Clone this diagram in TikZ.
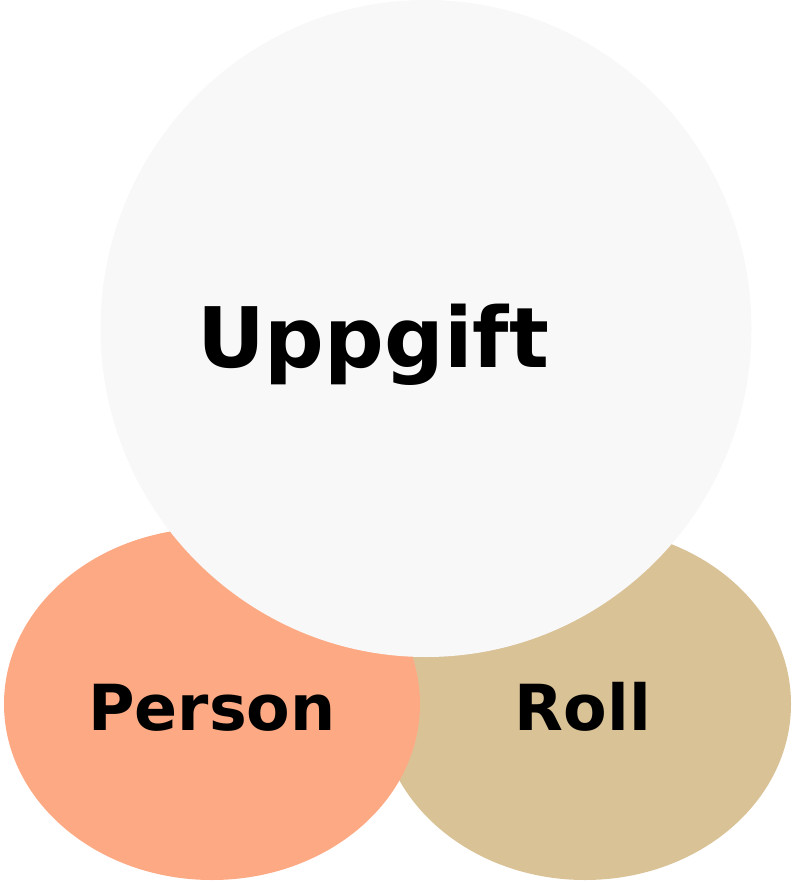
\documentclass[tikz,border=0pt]{standalone}
\usepackage{fontspec}
\setmainfont{DejaVu Sans}
\definecolor{personc}{HTML}{FDAA84}
\definecolor{rollc}{HTML}{DAC297}
\definecolor{taskc}{HTML}{F8F8F8}
\begin{document}
\begin{tikzpicture}[x=1pt,y=-1pt,
  lbl/.style={text=black, inner sep=0pt, anchor=base}]
\useasboundingbox (0,0) rectangle (795,882);
\fill[rollc] (585,704) ellipse [x radius=206, y radius=176];
\fill[personc] (212,704) ellipse [x radius=208, y radius=176];
\fill[taskc] (426,328.5) ellipse [x radius=325.5, y radius=328.5];
\node[lbl, font=\fontsize{83.5}{90}\selectfont\bfseries] (uppgift) at (373,367) {Uppgift};
\node[lbl, font=\fontsize{63.5}{70}\selectfont\bfseries] (person) at (212,730) {Person};
\node[lbl, font=\fontsize{63.5}{70}\selectfont\bfseries] (roll) at (583,730) {Roll};
\end{tikzpicture}
\end{document}
